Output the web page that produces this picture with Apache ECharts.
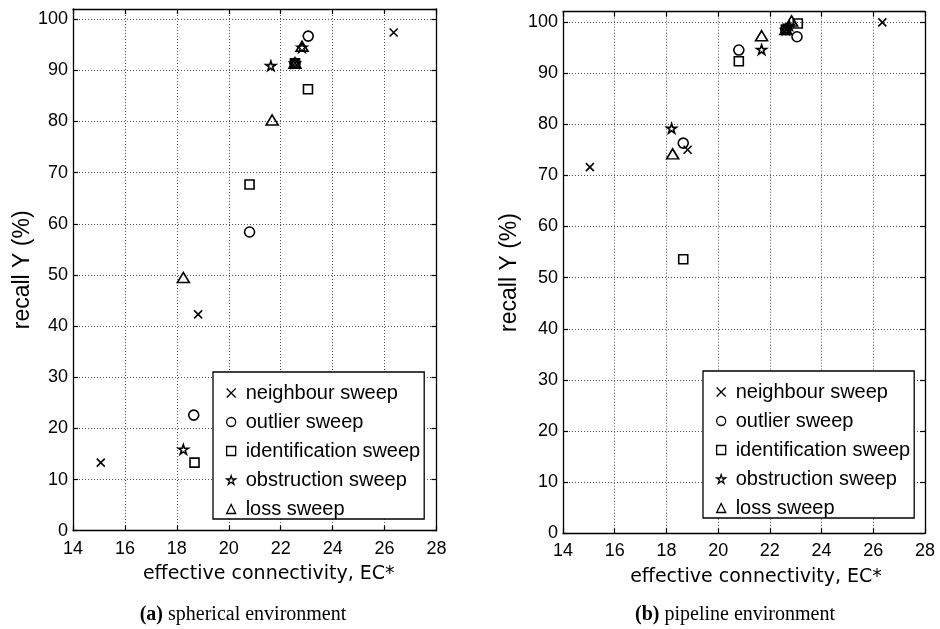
<!DOCTYPE html>
<html>
<head>
<meta charset="utf-8">
<script src="https://cdn.jsdelivr.net/npm/echarts@6/dist/echarts.min.js"></script>
<style>
html,body{margin:0;padding:0;background:#fff;}
#chart{width:940px;height:629px;}
</style>
</head>
<body>
<div id="chart"></div>
<script>
// ---- data ----
const sweepNames = ['neighbour sweep', 'outlier sweep', 'identification sweep', 'obstruction sweep', 'loss sweep'];
const xTicks = [14, 16, 18, 20, 22, 24, 26, 28];
const yTicks = [0, 10, 20, 30, 40, 50, 60, 70, 80, 90, 100];

// (a) spherical environment: [EC*, recall %]
const spherNeighbour = [[15.07, 13.3], [18.82, 42.3], [22.55, 91.4], [26.35, 97.4]];
const spherOutlier = [[18.65, 22.6], [20.8, 58.4], [22.55, 91.4], [23.06, 96.7]];
const spherIdent = [[18.68, 13.3], [20.8, 67.7], [22.55, 91.4], [23.05, 86.3]];
const spherObstr = [[18.25, 15.9], [21.62, 90.9], [22.55, 91.4], [22.82, 94.5]];
const spherLoss = [[18.25, 49.5], [21.67, 80.3], [22.55, 91.4], [22.82, 94.7]];

// (b) pipeline environment
const pipeNeighbour = [[15.04, 71.6], [18.82, 75.0], [22.62, 98.5], [26.35, 99.9]];
const pipeOutlier = [[18.65, 76.3], [20.8, 94.5], [22.62, 98.5], [23.05, 97.1]];
const pipeIdent = [[18.65, 53.6], [20.8, 92.3], [22.62, 98.5], [23.08, 99.7]];
const pipeObstr = [[18.2, 79.2], [21.68, 94.6], [22.62, 98.5], [22.75, 99.3]];
const pipeLoss = [[18.24, 74.2], [21.68, 97.3], [22.62, 98.5], [22.84, 100.2]];

// ---- styles ----
const STAR = 'path://M10,0L12.245,6.91L19.51,6.91L13.633,11.18L15.878,18.09L10,13.82L4.122,18.09L6.367,11.18L0.49,6.91L7.755,6.91Z';
const CROSS = 'path://M0,0L10,10M10,0L0,10';
const symbols = [CROSS, 'circle', 'rect', STAR, 'triangle'];
const sizes = [[8, 8], 10, 9, [10, 9.5], [12, 10]];

const chart = echarts.init(document.getElementById('chart'));

const grids = [
  { left: 73, top: 9, width: 363.5, height: 521.7 },
  { left: 563, top: 11.7, width: 362, height: 521.6 }
];

function mkX(gridIndex, primary) {
  return {
    type: 'value', gridIndex: gridIndex, min: 14, max: 28, interval: 2,
    position: primary ? 'bottom' : 'top',
    axisLine: { show: true, onZero: false, lineStyle: { color: '#000', width: 1.3 } },
    axisTick: { show: true, inside: true, length: 5, lineStyle: { color: '#000', width: 1.2 } },
    axisLabel: { show: primary, color: '#000', fontFamily: 'Liberation Sans, Arial', fontSize: 18, margin: 9 },
    splitLine: { show: primary, lineStyle: { color: '#555', type: [1, 2], width: 1 } },
    name: primary ? 'effective connectivity, EC*' : '',
    nameLocation: 'middle', nameGap: 34,
    nameTextStyle: { color: '#000', fontFamily: 'DejaVu Sans', fontSize: 19, padding: [0, 0, 0, gridIndex === 0 ? 28 : 24] }
  };
}
function mkY(gridIndex, primary) {
  return {
    type: 'value', gridIndex: gridIndex, min: 0, max: 102, interval: 10,
    position: primary ? 'left' : 'right',
    axisLine: { show: true, onZero: false, lineStyle: { color: '#000', width: 1.3 } },
    axisTick: { show: true, inside: true, length: 5, lineStyle: { color: '#000', width: 1.2 } },
    axisLabel: {
      show: primary, color: '#000', fontFamily: 'Liberation Sans, Arial', fontSize: 18, margin: 5,
      showMaxLabel: false,
      formatter: function (v) { return yTicks.indexOf(v) >= 0 ? String(v) : ''; }
    },
    splitLine: { show: primary, lineStyle: { color: '#555', type: [1, 2], width: 1 } },
    name: primary ? 'recall Y (%)' : '',
    nameLocation: 'middle', nameGap: gridIndex === 0 ? 39 : 42, nameRotate: 90,
    nameTextStyle: { color: '#000', fontFamily: 'Liberation Sans, Arial', fontSize: 23 }
  };
}

const spherData = [spherNeighbour, spherOutlier, spherIdent, spherObstr, spherLoss];
const pipeData = [pipeNeighbour, pipeOutlier, pipeIdent, pipeObstr, pipeLoss];

const series = [];
[spherData, pipeData].forEach(function (set, g) {
  set.forEach(function (d, i) {
    series.push({
      type: 'scatter', name: sweepNames[i],
      xAxisIndex: g * 2, yAxisIndex: g * 2,
      data: d,
      symbol: symbols[i], symbolSize: sizes[i],
      itemStyle: { color: 'rgba(0,0,0,0)', borderColor: '#000', borderWidth: 1.6, opacity: 1 },
      emphasis: { disabled: true },
      z: 3
    });
  });
});

function mkLegend(left, top) {
  return {
    orient: 'vertical', left: left, top: top,
    data: sweepNames,
    itemWidth: 9, itemHeight: 9, itemGap: 9,
    padding: [11, 4, 0, 13],
    backgroundColor: '#fff', borderColor: '#000', borderWidth: 1.3,
    selectedMode: false,
    itemStyle: { borderWidth: 1.3 },
    textStyle: { color: '#000', fontFamily: 'Liberation Sans, Arial', fontSize: 20, lineHeight: 20, padding: [0, 0, 0, 5] }
  };
}

chart.setOption({
  animation: false,
  backgroundColor: '#fff',
  grid: grids,
  xAxis: [mkX(0, true), mkX(0, false), mkX(1, true), mkX(1, false)],
  yAxis: [mkY(0, true), mkY(0, false), mkY(1, true), mkY(1, false)],
  legend: [mkLegend(213, 372), mkLegend(703, 371)],
  series: series,
  graphic: [
    {
      type: 'text', x: 243, y: 615,
      style: {
        text: '{b|(a)} spherical environment', align: 'center', verticalAlign: 'middle',
        font: '20px "Liberation Serif", "Times New Roman", serif', fill: '#000',
        rich: { b: { fontWeight: 'bold', fontFamily: 'Liberation Serif', fontSize: 20 } }
      }
    },
    {
      type: 'text', x: 735, y: 615,
      style: {
        text: '{b|(b)} pipeline environment', align: 'center', verticalAlign: 'middle',
        font: '20px "Liberation Serif", "Times New Roman", serif', fill: '#000',
        rich: { b: { fontWeight: 'bold', fontFamily: 'Liberation Serif', fontSize: 20 } }
      }
    }
  ]
});
</script>
</body>
</html>
